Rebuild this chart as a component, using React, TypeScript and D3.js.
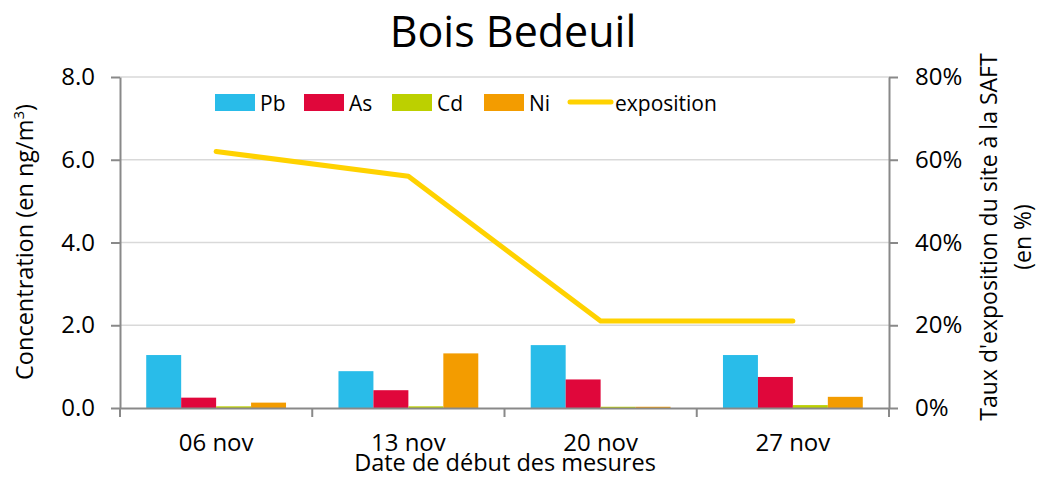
import React, { useEffect, useRef } from 'react';
import * as d3 from 'd3';

const dates = ["06 nov", "13 nov", "20 nov", "27 nov"];
const seriesNames = ["Pb", "As", "Cd", "Ni"];
const pb = [1.28, 0.89, 1.52, 1.28];
const as = [0.25, 0.43, 0.69, 0.75];
const cd = [0.04, 0.04, 0.03, 0.07];
const ni = [0.13, 1.32, 0.03, 0.27];
const exposition = [62, 56, 21, 21];
const concTicks = [0, 2, 4, 6, 8];
const pctTicks = [0, 20, 40, 60, 80];

const colors = { Pb: "#29BCE9", As: "#E0073B", Cd: "#BCD000", Ni: "#F39C00" };
const lineColor = "#FFD200";
const font = "'Open Sans', 'Noto Sans', sans-serif";

const App = () => {
  const ref = useRef(null);

  useEffect(() => {
    const svg = d3.select(ref.current);
    svg.selectAll("*").remove();
    const width = 1038;
    const marginLeft = 120;
    const marginRight = 149;
    const yTop = 77;
    const yBottom = 408;

    const values = { Pb: pb, As: as, Cd: cd, Ni: ni };

    const x = d3.scaleBand().domain(dates).range([marginLeft, width - marginRight]).padding(0);
    const xs = d3.scaleBand().domain(seriesNames).range([0, x.bandwidth()]).paddingInner(0).paddingOuter(0.75);
    const y = d3.scaleLinear().domain([0, 8]).range([yBottom, yTop]);
    const yp = d3.scaleLinear().domain([0, 80]).range([yBottom, yTop]);

    svg.attr("font-family", font);

    // gridlines
    svg.append("g")
      .selectAll("line")
      .data(concTicks.slice(1))
      .join("line")
        .attr("x1", marginLeft).attr("x2", width - marginRight)
        .attr("y1", d => y(d)).attr("y2", d => y(d))
        .attr("stroke", "#D9D9D9").attr("stroke-width", 1.5);

    // bars
    const groups = svg.append("g")
      .selectAll("g")
      .data(dates)
      .join("g")
        .attr("transform", d => `translate(${x(d)},0)`);
    groups.selectAll("rect")
      .data((d, i) => seriesNames.map(s => ({ s, v: values[s][i] })))
      .join("rect")
        .attr("x", d => xs(d.s))
        .attr("y", d => y(d.v))
        .attr("width", xs.bandwidth())
        .attr("height", d => y(0) - y(d.v))
        .attr("fill", d => colors[d.s]);

    // axes
    const left = svg.append("g")
      .attr("transform", `translate(${marginLeft},0)`)
      .call(d3.axisLeft(y).tickValues(concTicks).tickFormat(d3.format(".1f")).tickSize(9).tickPadding(16).tickSizeOuter(0));
    const right = svg.append("g")
      .attr("transform", `translate(${width - marginRight},0)`)
      .call(d3.axisRight(yp).tickValues(pctTicks).tickFormat(d => d + "%").tickSize(9).tickPadding(17).tickSizeOuter(0));
    const bottom = svg.append("g")
      .attr("transform", `translate(0,${yBottom})`)
      .call(d3.axisBottom(x).tickSize(0).tickPadding(26).tickSizeOuter(0));
    bottom.selectAll(".tick-mark")
      .data([...dates.map(d => x(d)), x.range()[1]])
      .join("line")
        .attr("class", "tick-mark")
        .attr("x1", d => d).attr("x2", d => d)
        .attr("y1", 0).attr("y2", 9)
        .attr("stroke", "#898989").attr("stroke-width", 2);

    [left, right, bottom].forEach(g => {
      g.selectAll(".domain").attr("stroke", "#898989").attr("stroke-width", 2);
      g.selectAll(".tick line").attr("stroke", "#898989").attr("stroke-width", 2);
      g.selectAll(".tick text").attr("fill", "#000").attr("font-size", 24).attr("font-family", font);
    });

    // exposition line
    svg.append("path")
      .datum(exposition)
      .attr("fill", "none")
      .attr("stroke", lineColor)
      .attr("stroke-width", 5)
      .attr("stroke-linecap", "round")
      .attr("stroke-linejoin", "round")
      .attr("d", d3.line((d, i) => x(dates[i]) + x.bandwidth() / 2, d => yp(d)));

    // title
    svg.append("text")
      .attr("x", 513).attr("y", 47)
      .attr("text-anchor", "middle")
      .attr("font-size", 43)
      .text("Bois Bedeuil");

    // axis titles
    svg.append("text")
      .attr("transform", `translate(33,242) rotate(-90)`)
      .attr("text-anchor", "middle")
      .attr("font-size", 23.5)
      .call(t => {
        t.append("tspan").text("Concentration (en ng/m");
        t.append("tspan").attr("font-size", 15).attr("dy", -9).text("3");
        t.append("tspan").attr("dy", 9).text(")");
      });

    svg.append("text")
      .attr("transform", `translate(997,237) rotate(-90)`)
      .attr("text-anchor", "middle")
      .attr("font-size", 23)
      .text("Taux d'exposition du site à la SAFT");
    svg.append("text")
      .attr("transform", `translate(1031,237) rotate(-90)`)
      .attr("text-anchor", "middle")
      .attr("font-size", 23)
      .text("(en %)");

    svg.append("text")
      .attr("x", 505).attr("y", 471)
      .attr("text-anchor", "middle")
      .attr("font-size", 23.5)
      .text("Date de début des mesures");

    // legend
    const legendItems = [
      { name: "Pb", x: 215, tx: 260 },
      { name: "As", x: 304, tx: 349 },
      { name: "Cd", x: 392, tx: 437 },
      { name: "Ni", x: 484, tx: 529 },
    ];
    const legend = svg.append("g");
    legend.selectAll("rect")
      .data(legendItems)
      .join("rect")
        .attr("x", d => d.x).attr("y", 94)
        .attr("width", 40).attr("height", 17)
        .attr("fill", d => colors[d.name]);
    legend.selectAll("text")
      .data([...legendItems, { name: "exposition", tx: 615 }])
      .join("text")
        .attr("x", d => d.tx).attr("y", 111)
        .attr("font-size", 21)
        .text(d => d.name);
    legend.append("line")
      .attr("x1", 570).attr("x2", 611)
      .attr("y1", 102).attr("y2", 102)
      .attr("stroke", lineColor).attr("stroke-width", 5)
      .attr("stroke-linecap", "round");
  }, []);

  return (
    <svg ref={ref} width={1038} height={477}
      style={{ position: "absolute", left: 0, top: 0, background: "#fff" }} />
  );
};

export default App;
